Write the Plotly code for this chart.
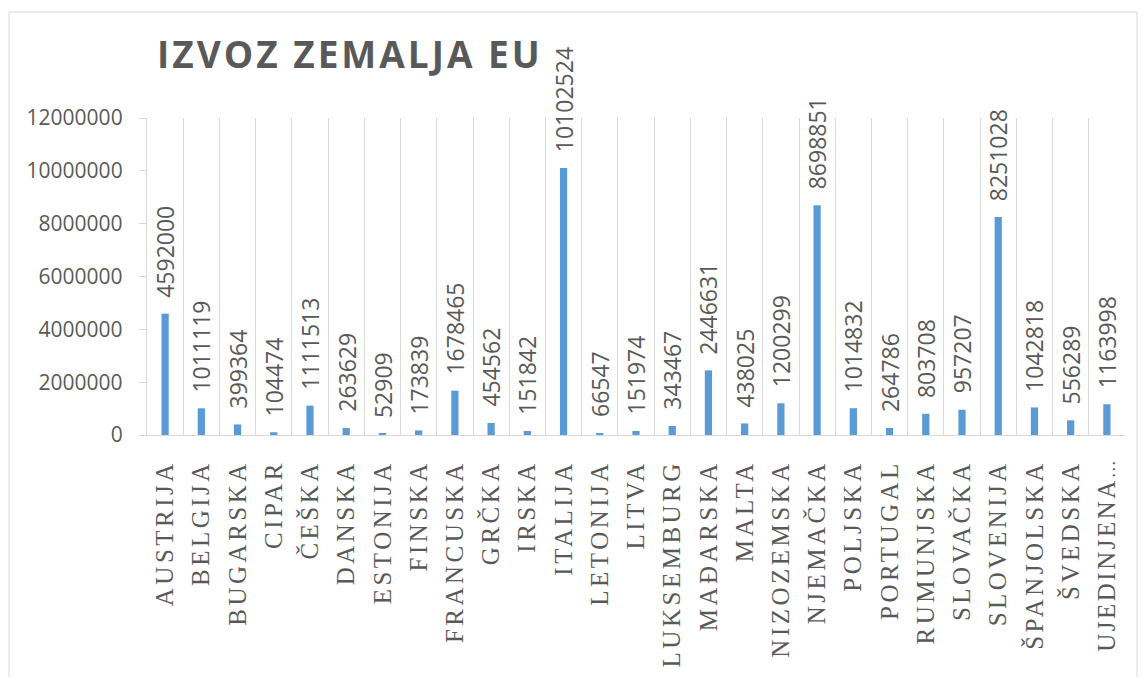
import plotly.graph_objects as go

categories = ["AUSTRIJA", "BELGIJA", "BUGARSKA", "CIPAR", "ČEŠKA", "DANSKA", "ESTONIJA",
              "FINSKA", "FRANCUSKA", "GRČKA", "IRSKA", "ITALIJA", "LETONIJA", "LITVA",
              "LUKSEMBURG", "MAĐARSKA", "MALTA", "NIZOZEMSKA", "NJEMAČKA", "POLJSKA",
              "PORTUGAL", "RUMUNJSKA", "SLOVAČKA", "SLOVENIJA", "ŠPANJOLSKA", "ŠVEDSKA",
              "UJEDINJENA …"]
values = [4592000, 1011119, 399364, 104474, 1111513, 263629, 52909, 173839, 1678465,
          454562, 151842, 10102524, 66547, 151974, 343467, 2446631, 438025, 1200299,
          8698851, 1014832, 264786, 803708, 957207, 8251028, 1042818, 556289, 1163998]
y_ticks = [0, 2000000, 4000000, 6000000, 8000000, 10000000, 12000000]
title_text = "IZVOZ ZEMALJA EU"

GRAY = "#595959"
LINE = "#d9d9d9"


def spaced(label):
    if label.endswith("…"):
        name = label[:-1].strip()
        return f'<span style="letter-spacing:2.5px">{name}</span><span style="font-size:18px">…</span>'
    return f'<span style="letter-spacing:3.5px">{label}</span>'


fig = go.Figure()
fig.add_trace(go.Bar(
    x=categories, y=values, width=0.2,
    marker=dict(color="#5B9BD5", line=dict(width=0)),
    hoverinfo="x+y",
))

for c, v in zip(categories, values):
    fig.add_annotation(
        x=c, y=v, text=str(v), textangle=-90, showarrow=False,
        xanchor="center", yanchor="bottom", yshift=14,
        font=dict(family="Open Sans", size=23, color=GRAY),
    )

# the page body has an 8px margin, so the figure is sized/positioned to compensate
OFF = 8
W, H = 1147 - 2 * OFF, 677 - OFF
L, R, T = 147 - OFF, 14, 118 - OFF
B = H - (435 - OFF)
pw, ph = W - L - R, H - T - B

fig.add_shape(type="rect", xref="paper", yref="paper",
              x0=(9 - 147) / pw, x1=(1137 - 147) / pw,
              y0=(435 - 720) / ph, y1=(435 - 12) / ph,
              line=dict(color=LINE, width=1), fillcolor="rgba(0,0,0,0)", layer="below")

fig.update_layout(
    width=W, height=H,
    margin=dict(l=L, r=R, t=T, b=B, autoexpand=False),
    paper_bgcolor="white", plot_bgcolor="white",
    showlegend=False,
    title=dict(
        text=f'<span style="letter-spacing:3px">{title_text}</span>',
        xref="container", yref="container", x=(157 - OFF) / W, xanchor="left",
        y=1 - (55 - OFF) / H, yanchor="middle",
        font=dict(family="Open Sans", size=37, color=GRAY, weight="bold"),
    ),
    bargap=0.8,
)
fig.update_xaxes(
    type="category", tickson="boundaries",
    tickvals=categories,
    ticktext=[spaced(c) for c in categories],
    tickangle=-90, ticks="", ticklabelstandoff=14,
    tickfont=dict(family="Liberation Serif", size=25, color=GRAY),
    showgrid=True, gridcolor=LINE, gridwidth=1.3,
    showline=True, linecolor=LINE, linewidth=1.3,
    automargin=False,
)
fig.update_yaxes(
    range=[0, 12000000], tickvals=y_ticks, tickformat="d",
    ticks="outside", ticklen=7, tickcolor=LINE, tickwidth=1.3,
    ticklabelstandoff=12,
    tickfont=dict(family="Open Sans", size=21, color=GRAY),
    showgrid=False, showline=True, linecolor=LINE, linewidth=1.3,
    zeroline=False, automargin=False,
)

fig.write_html("out.html")
